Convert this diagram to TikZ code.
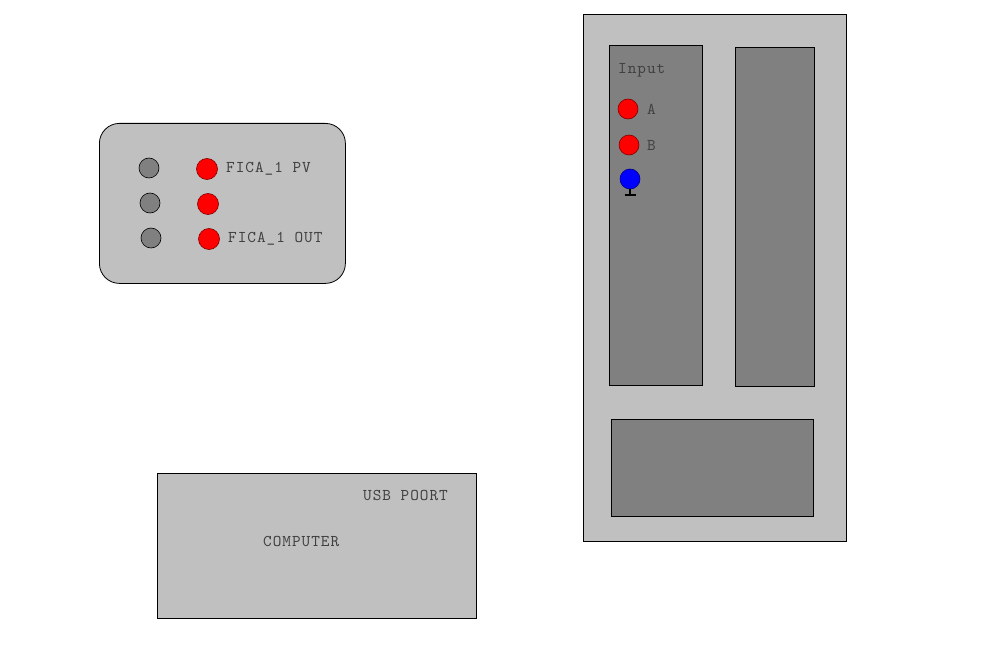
\documentclass[tikz,border=0pt]{standalone}
\usepackage{fontspec}
\newfontfamily\lmono{lmmono10-regular.otf}[LetterSpace=6]
\begin{document}
\begin{tikzpicture}[x=1bp,y=-1bp,
  panel/.style={draw=black,fill=panelgray,line width=0.8bp},
  dark/.style={draw=black,fill=darkgray,line width=0.8bp},
  graydot/.style={circle,draw=black,fill=darkgray,minimum size=20bp,inner sep=0pt,line width=0.6bp},
  reddot/.style={circle,draw=red!50!black,fill=red,minimum size=21bp,inner sep=0pt,line width=0.6bp},
  bluedot/.style={circle,draw=blue!50!black,fill=blue,minimum size=20bp,inner sep=0pt,line width=0.6bp},
  lbl/.style={anchor=west,inner sep=0pt,font=\lmono\fontsize{16.5}{16.5}\selectfont,text=black!75}]
\definecolor{panelgray}{HTML}{C0C0C0}
\definecolor{darkgray}{HTML}{808080}
\useasboundingbox (0,0) rectangle (984,662);
% rounded box
\node[panel,rounded corners=20bp,minimum width=246bp,minimum height=160bp,anchor=north west] (box) at (99,123) {};
\node[graydot] (g1) at (149,168) {};
\node[graydot] (g2) at (150,203) {};
\node[graydot] (g3) at (151,238) {};
\node[reddot] (r1) at (207,169) {};
\node[reddot] (r2) at (208,204) {};
\node[reddot] (r3) at (209,239) {};
\node[lbl] (t1) at (226,169) {FICA\_1 PV};
\node[lbl] (t3) at (228,239) {FICA\_1 OUT};
% computer
\node[panel,minimum width=319bp,minimum height=145bp,anchor=north west] (pc) at (157,473) {};
\node[lbl] (usb) at (363,495) {USB POORT};
\node[lbl] (comp) at (263,541) {COMPUTER};
% rack
\node[panel,minimum width=263bp,minimum height=527bp,anchor=north west] (rack) at (583,14) {};
\node[dark,minimum width=93bp,minimum height=340bp,anchor=north west] (m1) at (609,45) {};
\node[dark,minimum width=79bp,minimum height=339bp,anchor=north west] (m2) at (735,47) {};
\node[dark,minimum width=202bp,minimum height=97bp,anchor=north west] (m3) at (611,419) {};
\node[lbl] (inp) at (618,70) {Input};
\node[reddot,minimum size=20bp] (ra) at (628,109) {};
\node[reddot,minimum size=20bp] (rb) at (629,145) {};
\node[lbl] (la) at (647,109) {A};
\node[lbl] (lb) at (647,145) {B};
\node[bluedot] (bl) at (630,179) {};
\coordinate (stemb) at (630,195);
\draw[line width=1.8bp] (bl.south) -- (stemb);
\draw[line width=2.6bp] ([xshift=-5.5bp]stemb) -- ([xshift=5.5bp]stemb);
\end{tikzpicture}
\end{document}
